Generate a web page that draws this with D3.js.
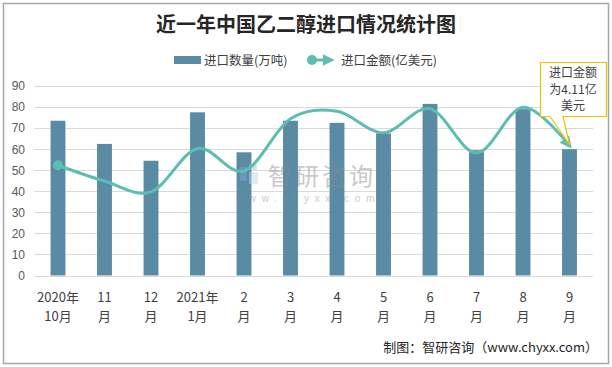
<!DOCTYPE html>
<html><head><meta charset="utf-8">
<script src="https://cdn.jsdelivr.net/npm/d3@7"></script>
<style>
html,body{margin:0;padding:0;background:#fff;}
text{font-family:"Liberation Sans","Noto Sans CJK SC",sans-serif;}
.cjk{font-family:"Noto Sans CJK SC",sans-serif;}
</style></head>
<body>
<svg id="chart" width="612" height="367"></svg>
<script>
const title = "近一年中国乙二醇进口情况统计图";
const catLine1 = ["2020年","11","12","2021年","2","3","4","5","6","7","8","9"];
const catLine2 = ["10月","月","月","1月","月","月","月","月","月","月","月","月"];
const categories = catLine1.map((d,i)=>d+catLine2[i]);
const qty = [73.5, 62.5, 54.5, 77.5, 58.5, 73.5, 72.5, 67.5, 81.5, 59.5, 79, 60];
const amount = [3.49, 2.99, 2.65, 4.02, 3.31, 4.96, 5.2, 4.52, 5.28, 3.88, 5.33, 4.11];
const yTicks = [0,10,20,30,40,50,60,70,80,90];
const seriesNames = ["进口数量(万吨)","进口金额(亿美元)"];
const calloutLines = ["进口金额","为4.11亿","美元"];
const sourceText = "制图：智研咨询（www.chyxx.com）";

const svg = d3.select("#chart");
const barColor = "#5a8ba5", lineColor = "#5cbdb1";

svg.append("rect").attr("x",3.5).attr("y",3.5).attr("width",605).attr("height",360)
  .attr("fill","#fff").attr("stroke","#a6a6a6").attr("stroke-width",1.5);

const x = d3.scaleBand().domain(categories).range([34.75, 592.75]).padding(0);
const y = d3.scaleLinear().domain([0,90]).range([275.5, 86]);
const y2 = d3.scaleLinear().domain([0,6]).range([275.5, 86]);

// grid
svg.append("g").selectAll("line").data(yTicks).join("line")
  .attr("x1",34).attr("x2",593).attr("y1",d=>Math.round(y(d))+0.5).attr("y2",d=>Math.round(y(d))+0.5)
  .attr("stroke","#d9d9d9").attr("stroke-width",1);

// y axis labels
const yAxis = d3.axisLeft(y).tickValues(yTicks).tickSize(0).tickPadding(0);
const gy = svg.append("g").attr("transform","translate(25,0)").call(yAxis);
gy.select(".domain").remove();
gy.selectAll("text").attr("font-size",12).attr("fill","#595959")
  .attr("font-family","Liberation Sans, sans-serif");

// bars
const bw = x.bandwidth()*0.32;
svg.append("g").selectAll("rect").data(qty).join("rect")
  .attr("x",(d,i)=>x(categories[i])+x.bandwidth()/2-bw/2)
  .attr("width",bw)
  .attr("y",d=>y(d)).attr("height",d=>y(0)-y(d))
  .attr("fill",barColor);

// x labels
const gx = svg.append("g");
categories.forEach((c,i)=>{
  const cx = x(c)+x.bandwidth()/2;
  gx.append("text").attr("class","cjk").attr("x",cx).attr("y",302).attr("text-anchor","middle")
    .attr("font-size",13).attr("fill","#404040").text(catLine1[i]);
  gx.append("text").attr("class","cjk").attr("x",cx).attr("y",321).attr("text-anchor","middle")
    .attr("font-size",13).attr("fill","#404040").text(catLine2[i]);
});

// watermark
const wm = svg.append("g").attr("opacity",0.45);
wm.append("rect").attr("x",240).attr("y",167).attr("width",7).attr("height",14).attr("fill","#7fa7c9");
wm.append("rect").attr("x",249).attr("y",164).attr("width",8).attr("height",6).attr("fill","#9fc3dd");
wm.append("rect").attr("x",249).attr("y",172).attr("width",9).attr("height",12).attr("fill","#b9d4e8");
wm.append("text").attr("class","cjk").attr("x",268).attr("y",185).attr("font-size",24)
  .attr("fill","#8a8a8a").attr("letter-spacing",3).text("智研咨询");
wm.append("text").attr("x",236).attr("y",202).attr("font-size",10).attr("fill","#8a8a8a")
  .attr("letter-spacing",5.6).text("www.chyxx.com");

// line
const defs = svg.append("defs");
defs.append("marker").attr("id","arr").attr("viewBox","0 0 10 10").attr("refX",7).attr("refY",5)
  .attr("markerWidth",4).attr("markerHeight",4).attr("orient","auto").attr("markerUnits","strokeWidth")
  .append("path").attr("d","M0,0 L10,5 L0,10 Z").attr("fill",lineColor);

const line = d3.line()
  .x((d,i)=>x(categories[i])+x.bandwidth()/2)
  .y(d=>y2(d))
  .curve(d3.curveCardinal.tension(0));
svg.append("path").datum(amount).attr("d",line).attr("fill","none")
  .attr("stroke",lineColor).attr("stroke-width",3).attr("marker-end","url(#arr)");
svg.append("circle").attr("cx",x(categories[0])+x.bandwidth()/2).attr("cy",y2(amount[0]))
  .attr("r",5).attr("fill",lineColor);

// title
svg.append("text").attr("class","cjk").attr("x",306).attr("y",32).attr("text-anchor","middle")
  .attr("font-size",20).attr("font-weight","bold").attr("fill","#262626").text(title);

// legend
svg.append("rect").attr("x",174).attr("y",56).attr("width",27).attr("height",8).attr("fill",barColor);
svg.append("text").attr("class","cjk").attr("x",204).attr("y",64.5).attr("font-size",12.5)
  .attr("fill","#404040").text(seriesNames[0]);
svg.append("line").attr("x1",312).attr("x2",331).attr("y1",60).attr("y2",60)
  .attr("stroke",lineColor).attr("stroke-width",3).attr("marker-end","url(#arr)");
svg.append("circle").attr("cx",312).attr("cy",60).attr("r",5).attr("fill",lineColor);
svg.append("text").attr("class","cjk").attr("x",341).attr("y",64.5).attr("font-size",12.5)
  .attr("fill","#404040").text(seriesNames[1]);

// callout
const lx = x(categories[11])+x.bandwidth()/2, ly = y2(amount[11]);
svg.append("path")
  .attr("d",`M540.5,62.5 H606.5 V116.5 H563 L${lx},${ly-1} L550,116.5 H540.5 Z`)
  .attr("fill","#fff").attr("stroke","#f5c000").attr("stroke-width",1.2);
calloutLines.forEach((t,i)=>{
  svg.append("text").attr("class","cjk").attr("x",573).attr("y",77+i*16.5).attr("text-anchor","middle")
    .attr("font-size",12).attr("fill","#404040").text(t);
});

// source
svg.append("text").attr("class","cjk").attr("x",598).attr("y",352).attr("text-anchor","end")
  .attr("font-size",13).attr("fill","#262626").text(sourceText);
</script>
</body></html>
